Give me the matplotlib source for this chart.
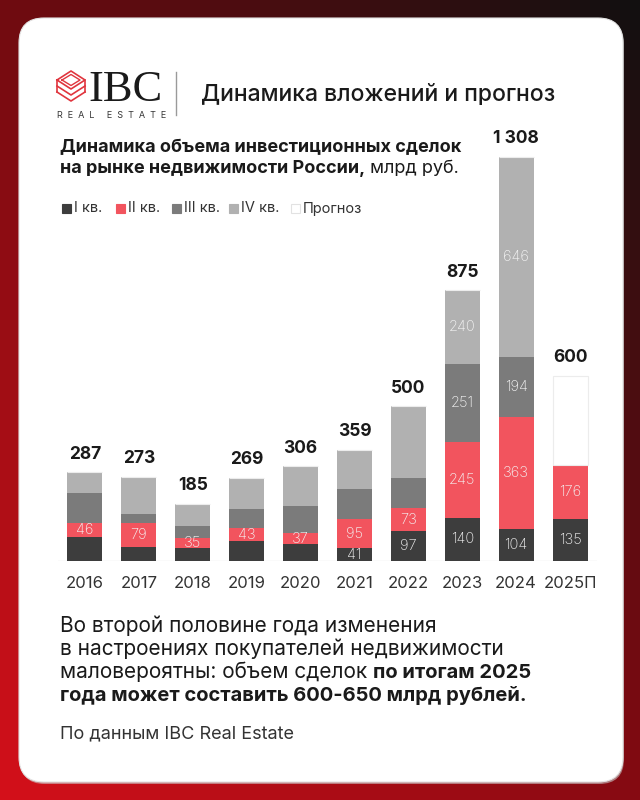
import numpy as np
import matplotlib
matplotlib.use('Agg')
import matplotlib.pyplot as plt
from matplotlib.patches import FancyBboxPatch, Rectangle

plt.rcParams['font.family'] = ['Inter', 'DejaVu Sans']

# Данные (млрд руб.)
years = ['2016', '2017', '2018', '2019', '2020', '2021', '2022', '2023', '2024', '2025П']
q1 = [78, 44, 41, 64, 54, 41, 97, 140, 104, 135]
q2 = [46, 79, 35, 43, 37, 95, 73, 245, 363, 176]
q3 = [97, 30, 36, 60, 86, 97, 99, 251, 194, 0]
q4 = [66, 120, 73, 102, 129, 126, 231, 240, 646, 0]
forecast = [0, 0, 0, 0, 0, 0, 0, 0, 0, 289]
totals = ['287', '273', '185', '269', '306', '359', '500', '875', '1 308', '600']

# какие сегменты подписаны
q1_shown = [5, 6, 7, 8, 9]
q2_shown = [0, 1, 2, 3, 4, 5, 6, 7, 8, 9]
q3_shown = [7, 8]
q4_shown = [7, 8]

legend_labels = ['I кв.', 'II кв.', 'III кв.', 'IV кв.', 'Прогноз']
colors = ['#3d3d3d', '#f2545e', '#7b7b7b', '#b1b1b1', '#ffffff']

fig = plt.figure(figsize=(6.4, 8), dpi=100)

# Фон в пикселях
bg = fig.add_axes([0, 0, 1, 1])
bg.set_xlim(0, 640)
bg.set_ylim(800, 0)
bg.axis('off')

gx, gy = np.meshgrid(np.linspace(0, 1, 64), np.linspace(0, 1, 80))
tl = np.array([0x70, 0x0b, 0x10]) / 255
tr = np.array([0x12, 0x10, 0x10]) / 255
bl = np.array([0xd4, 0x10, 0x1a]) / 255
br = np.array([0x86, 0x0a, 0x12]) / 255
grad = ((1 - gx)[..., None] * (1 - gy)[..., None] * tl + gx[..., None] * (1 - gy)[..., None] * tr
        + (1 - gx)[..., None] * gy[..., None] * bl + gx[..., None] * gy[..., None] * br)
bg.imshow(grad, extent=(0, 640, 800, 0), aspect='auto', zorder=0)

# карточка
bg.add_patch(FancyBboxPatch((20, 19), 604, 765, boxstyle='round,pad=0,rounding_size=25',
                            fc='#c9c9c9', ec='none', alpha=0.6, zorder=1))
bg.add_patch(FancyBboxPatch((19, 18), 604, 764, boxstyle='round,pad=0,rounding_size=25',
                            fc='white', ec='#e4e4e4', lw=0.8, zorder=2))

# логотип
red = '#e0353e'
for k, d in enumerate([0, 6, 12]):
    if k == 0:
        xs = [57, 71, 85, 71, 57]
        ys = [80, 71, 80, 89, 80]
    else:
        xs = [57, 71, 85]
        ys = [80 + d, 89 + d, 80 + d]
    bg.plot(xs, ys, color=red, lw=1.2, zorder=3)
bg.plot([62, 71, 80, 71, 62], [80, 74.5, 80, 85.5, 80], color=red, lw=1.0, zorder=3)
bg.plot([57, 57], [80, 92], color=red, lw=1.2, zorder=3)
bg.plot([85, 85], [80, 92], color=red, lw=1.2, zorder=3)
bg.text(88, 101, 'IBC', family='Liberation Serif', fontsize=32, color='#1a1a1a',
        va='baseline', ha='left', zorder=3)
bg.text(57, 116, 'R  E  A  L     E  S  T  A  T  E', fontsize=6.5, color='#333333',
        va='center', ha='left', zorder=3)
bg.plot([176, 176], [72, 115], color='#9a9a9a', lw=1.0, zorder=3)

bg.text(201, 101, 'Динамика вложений и прогноз', fontsize=16.5, color='#1a1a1a',
        fontweight='medium', va='baseline', ha='left', zorder=3)

renderer = fig.canvas.get_renderer()


def write_line(x, y, parts, color='#1a1a1a'):
    for s, w, size in parts:
        t = bg.text(x, y, s, fontsize=size, fontweight=w, color=color,
                    va='baseline', ha='left', zorder=3)
        x += t.get_window_extent(renderer).width


write_line(60, 152, [('Динамика объема инвестиционных сделок', 'bold', 13)])
write_line(60, 173, [('на рынке недвижимости России,', 'bold', 13), (' млрд руб.', 'normal', 13)])

# легенда
lx = [62, 116, 172, 229, 291]
for x, lab, c in zip(lx, legend_labels, colors):
    bg.add_patch(Rectangle((x, 203.5), 9, 9, fc=c, ec='#e2e2e2' if c == '#ffffff' else c,
                           lw=0.8, zorder=3))
    bg.text(x + 12, 212.5, lab, fontsize=10.5, color='#333333', va='baseline', ha='left', zorder=3)

# текст внизу
write_line(60, 632, [('Во второй половине года изменения', 'normal', 15)])
write_line(60, 655, [('в настроениях покупателей недвижимости', 'normal', 15)])
write_line(60, 678, [('маловероятны: объем сделок ', 'normal', 15), ('по итогам 2025', 'bold', 14.5)])
write_line(60, 701, [('года может составить 600-650 млрд рублей.', 'bold', 14.5)])
write_line(60, 738, [('По данным IBC Real Estate', 'normal', 13)], color='#333333')

# График
ax = fig.add_axes([58 / 640, 239 / 800, 539 / 640, 432.6 / 800])
ax.patch.set_alpha(0)
ax.set_xlim(-0.5, 9.5)
ax.set_ylim(0, 1400)
ax.axis('off')

x = np.arange(len(years))
series = [q1, q2, q3, q4, forecast]
shown = [q1_shown, q2_shown, q3_shown, q4_shown, []]
bottom = np.zeros(len(years))
for vals, c, sh in zip(series, colors, shown):
    vals = np.array(vals)
    ax.bar(x, vals, 0.65, bottom=bottom, color=c,
           edgecolor='#ececec' if c == '#ffffff' else 'none', lw=0.8, zorder=2)
    for i in sh:
        ax.text(x[i], bottom[i] + vals[i] / 2, str(vals[i]), ha='center', va='center',
                fontsize=10.5, color='#f4f4f4', fontweight='light', zorder=3)
    bottom += vals

ax.axhline(0, color='#e6e6e6', lw=1, zorder=1)

for i in range(len(years)):
    ax.annotate(totals[i], (x[i], bottom[i]), xytext=(0, 7), textcoords='offset points',
                ha='center', va='bottom', fontsize=12.5, fontweight='bold', color='#1a1a1a')
    ax.annotate(years[i], (x[i], 0), xytext=(0, -16), textcoords='offset points',
                ha='center', va='center', fontsize=12, color='#333333', annotation_clip=False)

fig.savefig('out.png', dpi=100)
